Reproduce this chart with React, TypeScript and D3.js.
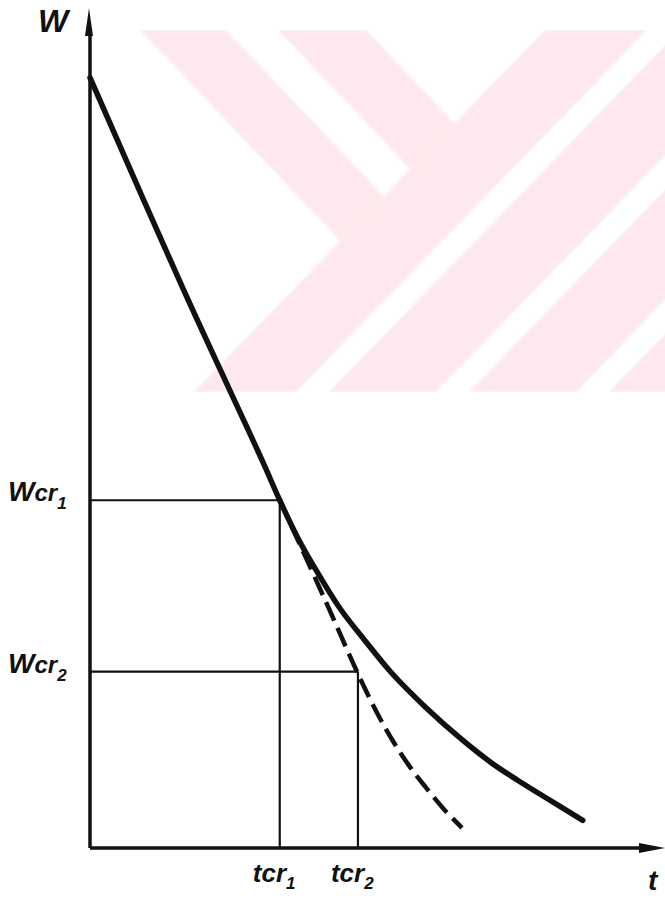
import React from 'react';
import * as d3 from 'd3';

const WIDTH = 665;
const HEIGHT = 903;

// Critical points (dimensionless units on 0..10 axes)
const tCritical = [3.3, 4.66];
const wCritical = [4.14, 2.1];
const critSubscripts = ['1', '2'];

// Drying curve (solid)
const solidT = [0, 1.63, 2.99, 3.3, 3.63, 4.0, 4.37, 4.77, 5.25, 5.83, 6.47, 6.99, 7.43, 7.9, 8.57];
const solidW = [9.17, 6.64, 4.62, 4.14, 3.67, 3.23, 2.83, 2.48, 2.08, 1.68, 1.29, 1.01, 0.81, 0.61, 0.33];

// Extrapolated constant-rate line (dashed)
const dashT = [3.3, 4.09, 4.71, 5.03, 5.29, 5.57, 5.83, 6.17, 6.47];
const dashW = [4.14, 2.95, 2.0, 1.56, 1.25, 0.96, 0.73, 0.45, 0.24];

const yAxisLabel = 'W';
const xAxisLabel = 't';
const critBaseY = 'W';
const critBaseX = 't';
const critMid = 'cr';

// Watermark geometry (decorative background)
const WM_TOP = 30;
const WM_BOTTOM = 392;
const WM_P = 0.97;
const WM_Q = 0.95;
const WM_SPLIT = 545;
const slashBands = [[545, 647], [680, 787], [820, 927], [960, 1067]];
const backBands = [[140, 226], [278, 366]];

const FONT = '"Liberation Sans", Arial, sans-serif';

export default function App() {
  const x = d3.scaleLinear().domain([0, 10]).range([90, 665]);
  const y = d3.scaleLinear().domain([0, 10]).range([848, 8]);

  const line = d3
    .line<[number, number]>()
    .x((d) => x(d[0]))
    .y((d) => y(d[1]))
    .curve(d3.curveCatmullRom.alpha(0.5));

  const solidPath = line(solidT.map((t, i) => [t, solidW[i]] as [number, number])) || '';
  const dashPath = line(dashT.map((t, i) => [t, dashW[i]] as [number, number])) || '';

  const h = WM_BOTTOM - WM_TOP;
  const slashPolys = slashBands.map(([c1, c2]) =>
    [
      [c1, WM_TOP],
      [c2, WM_TOP],
      [c2 - WM_P * h, WM_BOTTOM],
      [c1 - WM_P * h, WM_BOTTOM],
    ]
      .map((p) => p.join(','))
      .join(' ')
  );
  const meet = (d: number) => {
    const t = (WM_SPLIT - d) / (WM_P + WM_Q);
    return [d + WM_Q * t, WM_TOP + t];
  };
  const backPolys = backBands.map(([d1, d2]) =>
    [[d1, WM_TOP], [d2, WM_TOP], meet(d2), meet(d1)].map((p) => p.join(',')).join(' ')
  );

  const x0 = x(0);
  const y0 = y(0);
  const xEnd = x(10);
  const yEnd = y(10);

  return (
    <svg
      width={WIDTH}
      height={HEIGHT}
      style={{ position: 'absolute', left: 0, top: 0, background: '#fff' }}
    >
      <defs>
        <clipPath id="wmclip">
          <rect x={0} y={WM_TOP} width={WIDTH} height={WM_BOTTOM - WM_TOP} />
        </clipPath>
        <filter id="soft" x="-5%" y="-5%" width="110%" height="110%">
          <feGaussianBlur stdDeviation="1.3" />
        </filter>
      </defs>
      <rect x={0} y={0} width={WIDTH} height={HEIGHT} fill="#fff" />

      {/* watermark */}
      <g clipPath="url(#wmclip)" fill="#fde9ed" filter="url(#soft)">
        {slashPolys.map((pts, i) => (
          <polygon key={'s' + i} points={pts} />
        ))}
        {backPolys.map((pts, i) => (
          <polygon key={'b' + i} points={pts} />
        ))}
      </g>

      {/* critical guide lines */}
      {tCritical.map((t, i) => (
        <g key={'g' + i} stroke="#111" strokeWidth={2.2} fill="none">
          <line x1={x0} y1={y(wCritical[i])} x2={x(t)} y2={y(wCritical[i])} />
          <line x1={x(t)} y1={y0} x2={x(t)} y2={y(wCritical[i])} />
        </g>
      ))}

      {/* axes */}
      <line x1={x0} y1={y0} x2={x0} y2={yEnd + 20} stroke="#111" strokeWidth={3.5} />
      <line x1={x0} y1={y0} x2={xEnd - 20} y2={y0} stroke="#111" strokeWidth={3.5} />
      <polygon
        points={`${x0 - 1},${yEnd} ${x0 - 5},${yEnd + 28} ${x0 + 3},${yEnd + 28}`}
        fill="#111"
      />
      <polygon
        points={`${xEnd},${y0} ${xEnd - 26},${y0 - 5} ${xEnd - 26},${y0 + 5}`}
        fill="#111"
      />

      {/* curves */}
      <path d={dashPath} fill="none" stroke="#111" strokeWidth={4.5} strokeDasharray="20 8" />
      <path d={solidPath} fill="none" stroke="#111" strokeWidth={5.5} strokeLinecap="round" />

      {/* labels */}
      <g fontFamily={FONT} fontWeight="bold" fontStyle="italic" fill="#111">
        <text x={38} y={32} fontSize={32}>
          {yAxisLabel}
        </text>
        <text x={648} y={890} fontSize={28}>
          {xAxisLabel}
        </text>
        {wCritical.map((w, i) => (
          <text key={'wl' + i} x={8} y={y(w) + 1} fontSize={28}>
            {critBaseY}
            <tspan fontSize={24}>{critMid}</tspan>
            <tspan fontSize={17} dy={8}>
              {critSubscripts[i]}
            </tspan>
          </text>
        ))}
        {tCritical.map((t, i) => (
          <text key={'tl' + i} x={x(t) - 27} y={882} fontSize={26}>
            {critBaseX}
            <tspan>{critMid}</tspan>
            <tspan fontSize={17} dy={7}>
              {critSubscripts[i]}
            </tspan>
          </text>
        ))}
      </g>
    </svg>
  );
}
